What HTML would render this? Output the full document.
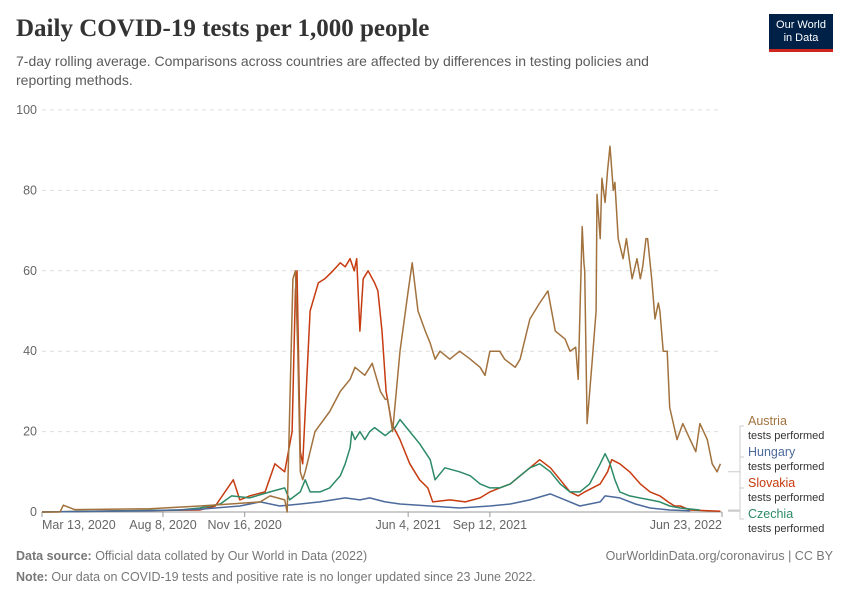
<!DOCTYPE html>
<html><head><meta charset="utf-8"><style>
body{margin:0;background:#fff;font-family:"Liberation Sans",sans-serif;}
#c{position:relative;width:850px;height:600px;overflow:hidden}
.t{position:absolute;white-space:nowrap}
</style></head><body>
<div id="c">
<div class="t" style="left:16px;top:15px;font-family:'Liberation Serif',serif;font-weight:bold;font-size:25px;color:#333">Daily COVID-19 tests per 1,000 people</div>
<div class="t" style="left:16px;top:52px;font-size:14px;color:#5b5b5b;line-height:19px;white-space:normal;width:680px">7-day rolling average. Comparisons across countries are affected by differences in testing policies and reporting methods.</div>
<div style="position:absolute;left:769px;top:14px;width:64px;height:38px;background:#002147;border-bottom:3px solid #ce261e;box-sizing:border-box;color:#fff;font-size:11px;text-align:center;line-height:13px;padding-top:5px">Our World<br>in Data</div>
<svg id="s" width="850" height="600" style="position:absolute;left:0;top:0"></svg>
<div class="t" style="left:16px;top:549px;font-size:12.5px;color:#777"><b>Data source:</b> Official data collated by Our World in Data (2022)</div>
<div class="t" style="right:17px;top:549px;font-size:12.5px;color:#777">OurWorldinData.org/coronavirus | CC BY</div>
<div class="t" style="left:16px;top:570px;font-size:12.5px;color:#777"><b>Note:</b> Our data on COVID-19 tests and positive rate is no longer updated since 23 June 2022.</div>
</div>
<script>
const yTicks=[0,20,40,60,80,100];
const xTickLabels=["Mar 13, 2020","Aug 8, 2020","Nov 16, 2020","Jun 4, 2021","Sep 12, 2021","Jun 23, 2022"];
const xTickDays=[0,148,248,448,548,832];
const austriaDays=[0,22,26,40,132,193,230,267,279,297,300,307,310,313,316,319,322,328,334,352,365,377,383,395,404,414,420,423,429,438,448,453,460,469,475,481,487,499,511,524,536,542,548,560,566,579,585,597,609,619,628,640,646,653,656,661,663,664,667,673,678,679,683,685,689,692,695,699,701,705,711,715,722,728,732,735,739,741,746,750,754,756,760,765,768,777,784,793,800,805,814,820,826,830];
const austriaVals=[0,0,1.7,0.6,0.8,1.5,2,2.5,4,3,0,58,60,40,10,8,10,15,20,25,30,33,36,34,37,30,28,28,20,40,55,62,50,45,42,38,40,38,40,38,36,34,40,40,38,36,38,48,52,55,45,43,40,41,33,71,62,60,22,37,50,79,68,83,77,85,91,80,82,68,63,68,58,63,58,61,68,68,58,48,52,50,40,40,26,18,22,18,15,22,18,12,10,12,10];
const slovakiaDays=[0,100,193,212,234,242,254,273,285,297,306,310,312,316,319,328,338,346,356,365,371,377,382,385,389,393,399,407,411,416,421,428,438,450,462,472,478,499,518,536,548,560,573,585,597,609,622,634,646,656,664,683,692,697,707,719,732,744,756,766,774,781,793,830];
const slovakiaVals=[0,0.3,0.5,1.5,8,3,4,5,12,10,20,55,60,15,12,50,57,58,60,62,61,63,60,63,45,58,60,57,55,45,30,22,18,12,8,6,2.5,3,2.5,3.5,5,6,7,9,11,13,11,8,5,4,5,7,10,13,12,10,7,5,4,2.5,1.5,1.5,0.5,0.2];
const czechiaDays=[0,168,193,218,232,254,279,297,303,316,322,328,340,352,365,371,377,379,383,389,395,401,407,420,432,438,450,462,475,481,493,511,524,536,548,560,573,585,597,609,622,634,646,658,670,683,689,695,701,707,719,744,756,768,781,805];
const czechiaVals=[0,0.5,1,2,4,3.5,5,6,3,5,8,5,5,6,9,12,16,20,18,20,18,20,21,19,21,23,20,17,13,8,11,10,9,7,6,6,7,9,11,12,10,7,5,5,7,12,14.5,12,8,5,4,3,2.5,1.5,1,0.5];
const hungaryDays=[0,132,193,242,267,291,316,340,371,389,401,420,438,475,511,548,573,597,622,640,658,683,689,707,726,744,768,793];
const hungaryVals=[0,0.3,0.7,1.5,2.5,1.5,2,2.5,3.5,3,3.5,2.5,2,1.5,1,1.5,2,3,4.5,3,1.5,2.5,4,3.5,2,1,0.5,0.3];
const seriesNames=["Austria","Hungary","Slovakia","Czechia"];
const NS="http://www.w3.org/2000/svg",svg=document.getElementById('s');
const X0=42,X1=722,Y0=512,Y1=110,DMAX=832,VMAX=100;
const xs=d=>X0+d/DMAX*(X1-X0), ys=v=>Y0-v/VMAX*(Y0-Y1);
function mk(t,a){const e=document.createElementNS(NS,t);for(const k in a)e.setAttribute(k,a[k]);svg.appendChild(e);return e;}
yTicks.forEach(v=>{
 const l=mk('line',{x1:X0,x2:X1,y1:ys(v),y2:ys(v),stroke:v?'#ddd':'#999','stroke-dasharray':v?'4,4':'none'});
 
 
 const t=mk('text',{x:37,y:ys(v)+4,'text-anchor':'end','font-size':12.5,fill:'#666','font-family':'Liberation Sans'});t.textContent=v;
 
 
});
xTickDays.forEach((d,i)=>{
 const x=xs(d);
 const tk=mk('line',{x1:x,x2:x,y1:Y0,y2:Y0+5,stroke:'#999'});
 
 
 const anc=i==0?'start':(i==xTickDays.length-1?'end':'middle');
 const t=mk('text',{x:x,y:Y0+17,'text-anchor':anc,'font-size':12.5,fill:'#666','font-family':'Liberation Sans'});t.textContent=xTickLabels[i];
 
 
});
const series=[[austriaDays,austriaVals,'#a2723e'],[hungaryDays,hungaryVals,'#4c6a9c'],[slovakiaDays,slovakiaVals,'#c63b10'],[czechiaDays,czechiaVals,'#2d8a67']];
const draw=[2,3,1,0];
draw.forEach(i=>{const [D,V,c]=series[i];
 const p=mk('polyline',{points:D.map((d,j)=>xs(d).toFixed(1)+','+ys(V[j]).toFixed(1)).join(' '),fill:'none',stroke:c,'stroke-width':1.5,'stroke-linejoin':'round'});
 
 
});
const legY=[420,451,482,513];
series.forEach(([D,V,c],i)=>{
 const ye=ys(V[V.length-1]);
 const pl=mk('polyline',{points:`${X1+6},${ye} ${X1+18},${ye} ${X1+18},${legY[i]+6} ${X1+22},${legY[i]+6}`,fill:'none',stroke:'#ccc'});
 
 
 const t=mk('text',{x:748,y:legY[i]+5,'font-size':12.5,fill:c,'font-family':'Liberation Sans'});t.textContent=seriesNames[i];
 
 
 const t2=mk('text',{x:748,y:legY[i]+19,'font-size':11,fill:'#333','font-family':'Liberation Sans'});t2.textContent='tests performed';
 
 
});
</script>
</body></html>
